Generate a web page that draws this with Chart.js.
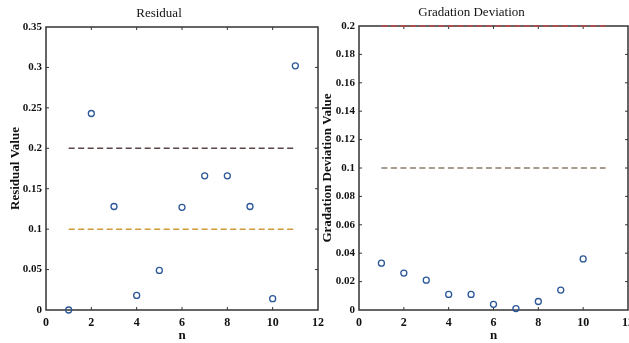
<!DOCTYPE html>
<html>
<head>
<meta charset="utf-8">
<script src="https://cdn.jsdelivr.net/npm/chart.js@4.4.1/dist/chart.umd.min.js"></script>
<style>
  html, body { margin:0; padding:0; background:#fff; overflow:hidden; width:629px; height:343px; }
  canvas { position:absolute; top:0; }
  #c1 { left:0; }
  #c2 { left:315px; }
</style>
</head>
<body>
<canvas id="c1" width="364" height="343"></canvas>
<canvas id="c2" width="356" height="343"></canvas>
<script>
// ---- data ----
const nResidual = [1,2,3,4,5,6,7,8,9,10,11];
const residualValues = [0, 0.243, 0.128, 0.018, 0.049, 0.127, 0.166, 0.166, 0.128, 0.014, 0.302];
const residualLimitHigh = 0.2;
const residualLimitLow = 0.1;

const nGradation = [1,2,3,4,5,6,7,8,9,10];
const gradationValues = [0.033, 0.026, 0.021, 0.011, 0.011, 0.004, 0.001, 0.006, 0.014, 0.036];
const gradationLimitHigh = 0.2;
const gradationLimitLow = 0.1;

const limitSpan = [1, 11];
const xTicks = [0,2,4,6,8,10,12];

const FONT = '"Liberation Serif", "Times New Roman", serif';

const frameTicks = {
  id: 'frameTicks',
  beforeDatasetsDraw(chart) {
    const {ctx, chartArea: a, scales} = chart;
    ctx.save();
    ctx.strokeStyle = '#333';
    ctx.lineWidth = 1.5;
    ctx.strokeRect(a.left, a.top, a.right - a.left, a.bottom - a.top);
    ctx.lineWidth = 1;
    const L = 3;
    scales.x.ticks.forEach(t => {
      const px = scales.x.getPixelForValue(t.value);
      if (Math.abs(px - a.left) < 1 || Math.abs(px - a.right) < 1) return;
      ctx.beginPath();
      ctx.moveTo(px, a.bottom); ctx.lineTo(px, a.bottom - L);
      ctx.moveTo(px, a.top); ctx.lineTo(px, a.top + L);
      ctx.stroke();
    });
    scales.y.ticks.forEach(t => {
      const py = scales.y.getPixelForValue(t.value);
      if (Math.abs(py - a.top) < 1 || Math.abs(py - a.bottom) < 1) return;
      ctx.beginPath();
      ctx.moveTo(a.left, py); ctx.lineTo(a.left + L, py);
      ctx.moveTo(a.right, py); ctx.lineTo(a.right - L, py);
      ctx.stroke();
    });
    ctx.restore();
  }
};

const fmt = v => String(parseFloat(Number(v).toFixed(4)));

function makeChart(id, cfg) {
  const scatter = cfg.n.map((n, i) => ({x: n, y: cfg.values[i]}));
  const hi = limitSpan.map(x => ({x, y: cfg.hi}));
  const lo = limitSpan.map(x => ({x, y: cfg.lo}));
  return new Chart(document.getElementById(id), {
    type: 'scatter',
    data: {
      datasets: [
        { type:'line', data: hi, borderColor: cfg.hiColor, borderWidth: 1.5, borderDash:[6,3.5], pointRadius:0, clip:false, fill:false },
        { type:'line', data: lo, borderColor: cfg.loColor, borderWidth: 1.5, borderDash:[6,3.5], pointRadius:0, clip:false, fill:false },
        { data: scatter, pointStyle:'circle', pointRadius:3, borderColor:'#2b5797', backgroundColor:'rgba(0,0,0,0)', pointBorderWidth:1.3, borderWidth:1.3, clip:false }
      ]
    },
    options: {
      responsive: false,
      animation: false,
      devicePixelRatio: 1,
      layout: { padding: { left: 0, right: cfg.padRight, top: 0, bottom: 0 } },
      plugins: {
        legend: { display:false },
        tooltip: { enabled:false },
        title: { display:true, text: cfg.title, color:'#111',
                 font:{ family: FONT, size: 13, weight:'normal', lineHeight:1.2 },
                 padding:{ top: cfg.titleTop, bottom: cfg.titleBottom } }
      },
      scales: {
        x: {
          type:'linear', min:0, max:12,
          afterBuildTicks: s => { s.ticks = xTicks.map(v => ({value:v})); },
          afterFit: s => { s.height = 33; s.paddingLeft = 0; s.paddingRight = 0; },
          grid: { display:false, drawTicks:false },
          border: { display:false },
          ticks: { color:'#111', padding:6, maxRotation:0, callback: fmt, font:{ family: FONT, size: 12, weight:'bold' } },
          title: { display:true, text:'n', color:'#111', padding:{top:0,bottom:0},
                   font:{ family: FONT, size: 13, weight:'bold', lineHeight:1.2 } }
        },
        y: {
          type:'linear', min:0, max:cfg.yMax,
          ticks: { stepSize: cfg.yStep, color:'#111', padding:4, callback: fmt, font:{ family: FONT, size: 11, weight:'bold' } },
          afterFit: s => { s.width = cfg.yWidth; s.paddingTop = 0; s.paddingBottom = 0; },
          grid: { display:false, drawTicks:false },
          border: { display:false },
          title: { display:true, text: cfg.yTitle, color:'#111', padding:{top:cfg.yTitlePad,bottom:0},
                   font:{ family: FONT, size: 13, weight:'bold', lineHeight:1.2 } }
        }
      }
    },
    plugins: [frameTicks]
  });
}

makeChart('c1', {
  n: nResidual, values: residualValues, hi: residualLimitHigh, lo: residualLimitLow,
  hiColor:'#5a4646', loColor:'#d09a38',
  title:'Residual', titleTop:6, titleBottom:5.4,
  yMax:0.35, yStep:0.05, yTitle:'Residual Value', yWidth:46, yTitlePad:8, padRight:46
});
makeChart('c2', {
  n: nGradation, values: gradationValues, hi: gradationLimitHigh, lo: gradationLimitLow,
  hiColor:'#c04848', loColor:'#8a7a6a',
  title:'Gradation Deviation', titleTop:5, titleBottom:5.4,
  yMax:0.2, yStep:0.02, yTitle:'Gradation Deviation Value', yWidth:44, yTitlePad:5, padRight:43
});
</script>
</body>
</html>
